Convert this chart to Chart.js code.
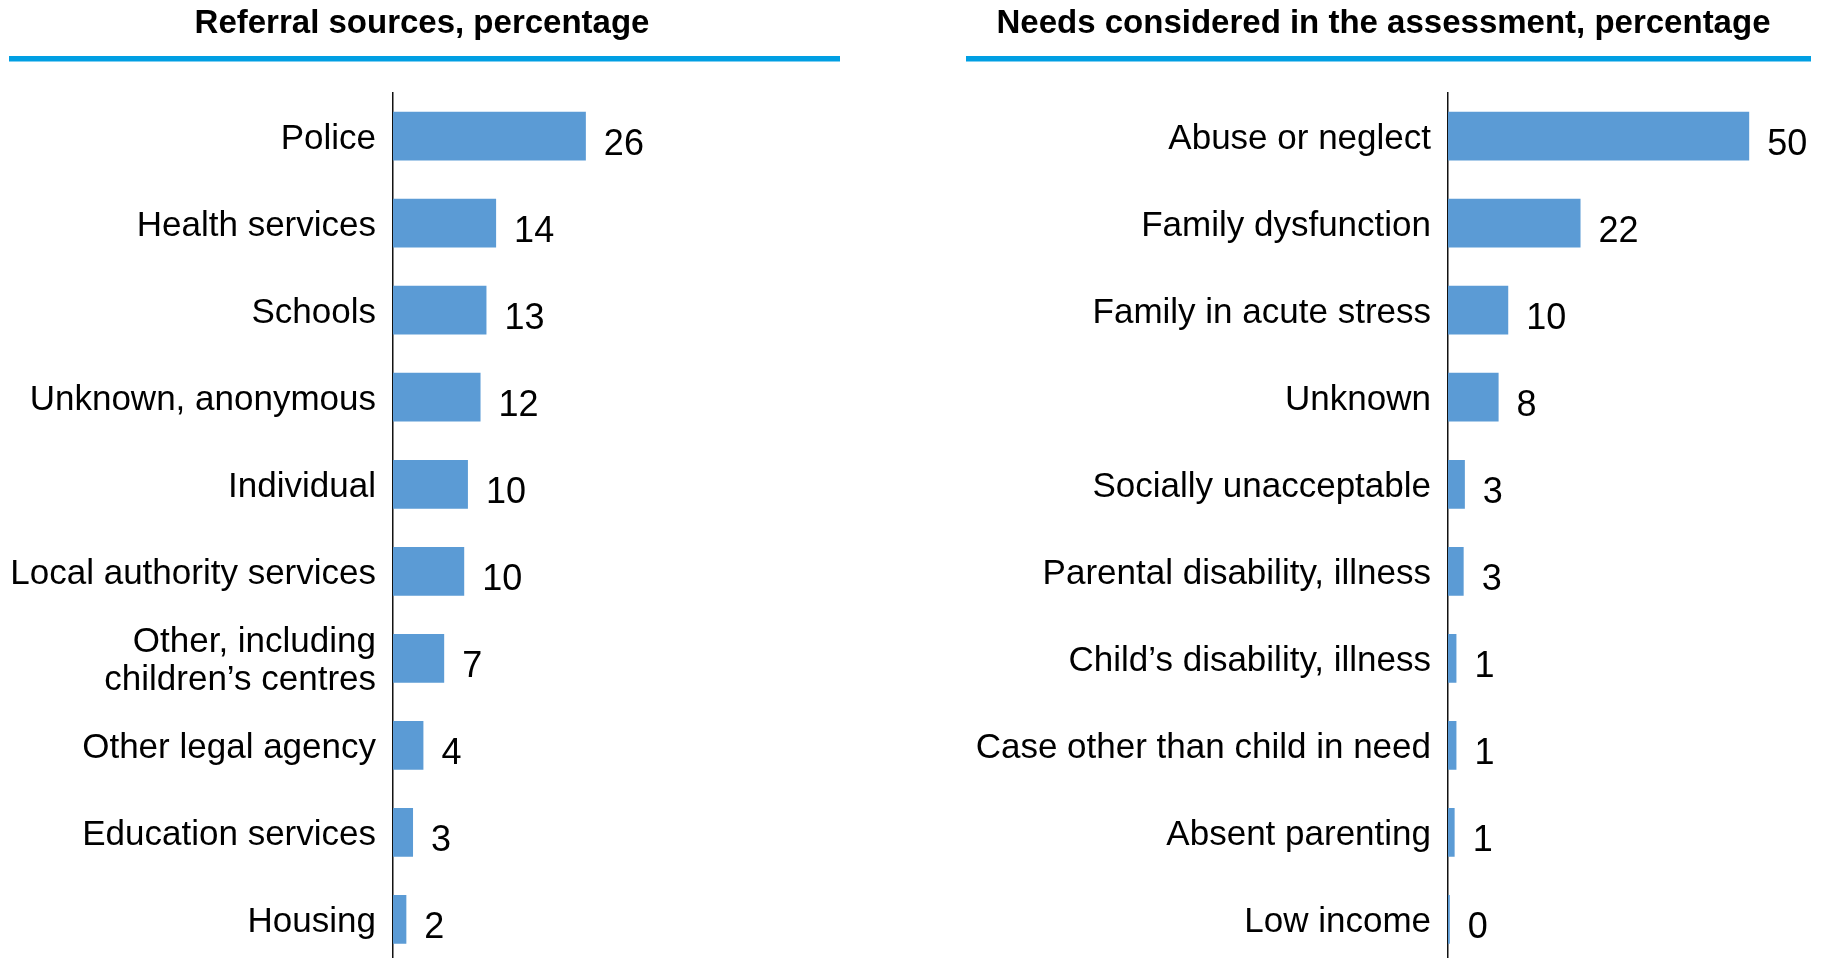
<!DOCTYPE html>
<html>
<head>
<meta charset="utf-8">
<script src="https://cdn.jsdelivr.net/npm/chart.js@4.4.1/dist/chart.umd.min.js"></script>
<style>
  html, body { margin: 0; padding: 0; background: #fff; overflow: hidden; width: 1829px; height: 958px; }
  canvas { position: absolute; top: 0; }
  #left { left: 0px; }
  #right { left: 966px; }
</style>
</head>
<body>
<canvas id="left" width="849" height="963"></canvas>
<canvas id="right" width="845" height="963"></canvas>
<script>
// ---- Data ----
const referralTitle = 'Referral sources, percentage';
const referralCategories = [
  'Police', 'Health services', 'Schools', 'Unknown, anonymous', 'Individual',
  'Local authority services', ['Other, including', 'children\u2019s centres'],
  'Other legal agency', 'Education services', 'Housing'
];
const referralValues = [26, 13.9, 12.6, 11.8, 10.1, 9.6, 6.9, 4.1, 2.7, 1.8];
const referralShown  = [26, 14, 13, 12, 10, 10, 7, 4, 3, 2];
const referralAxisMax = 60.8;

const needsTitle = 'Needs considered in the assessment, percentage';
const needsCategories = [
  'Abuse or neglect', 'Family dysfunction', 'Family in acute stress', 'Unknown',
  'Socially unacceptable', 'Parental disability, illness', 'Child\u2019s disability, illness',
  'Case other than child in need', 'Absent parenting', 'Low income'
];
const needsValues = [50, 22, 10, 8.4, 2.8, 2.6, 1.4, 1.4, 1.1, 0.3];
const needsShown  = [50, 22, 10, 8, 3, 3, 1, 1, 1, 0];
const needsAxisMax = 58.6;

// ---- Plugins ----
const valueLabels = {
  id: 'valueLabels',
  afterDatasetsDraw(chart, args, opts) {
    const ctx = chart.ctx;
    const meta = chart.getDatasetMeta(0);
    ctx.save();
    ctx.font = '36px "Liberation Sans", Arial, sans-serif';
    ctx.fillStyle = '#000';
    ctx.textAlign = 'left';
    ctx.textBaseline = 'alphabetic';
    meta.data.forEach((bar, i) => {
      ctx.fillText(String(opts.labels[i]), bar.x + 18, bar.y + 18.5);
    });
    ctx.restore();
  }
};
const underline = {
  id: 'underline',
  afterDraw(chart, args, opts) {
    const ctx = chart.ctx;
    ctx.save();
    ctx.fillStyle = '#009fe3';
    ctx.fillRect(opts.x0, 56, opts.x1 - opts.x0, 5.5);
    ctx.restore();
  }
};

function makeChart(id, title, cats, vals, shown, axisWidth, xMax, padRight, lineX0, lineX1) {
  return new Chart(document.getElementById(id), {
    type: 'bar',
    data: {
      labels: cats,
      datasets: [{
        data: vals,
        backgroundColor: '#5b9bd5',
        borderWidth: 0,
        barPercentage: 0.56,
        categoryPercentage: 1.0
      }]
    },
    options: {
      indexAxis: 'y',
      responsive: false,
      animation: false,
      devicePixelRatio: 1,
      layout: { padding: { left: 0, right: padRight, top: 0, bottom: 0 } },
      scales: {
        x: { display: false, min: 0, max: xMax },
        y: {
          grid: { display: false, drawTicks: false },
          border: { display: true, color: '#111', width: 1.5 },
          ticks: {
            padding: 17,
            labelOffset: 3,
            color: '#000',
            font: { family: '"Liberation Sans", Arial, sans-serif', size: 35, lineHeight: 1.07 }
          },
          afterFit(scale) {
            scale.width = axisWidth;
            scale.paddingTop = 0;
            scale.paddingBottom = 0;
          }
        }
      },
      plugins: {
        legend: { display: false },
        tooltip: { enabled: false },
        title: {
          display: true,
          text: title,
          color: '#000',
          font: { family: '"Liberation Sans", Arial, sans-serif', size: 33, weight: 'bold', lineHeight: 1.2 },
          padding: { top: 4, bottom: 49 }
        },
        valueLabels: { labels: shown },
        underline: { x0: lineX0, x1: lineX1 }
      }
    },
    plugins: [valueLabels, underline]
  });
}

makeChart('left', referralTitle, referralCategories, referralValues, referralShown, 393, referralAxisMax, 5, 9, 840);
makeChart('right', needsTitle, needsCategories, needsValues, needsShown, 482, needsAxisMax, 10, 0, 845);
</script>
</body>
</html>
